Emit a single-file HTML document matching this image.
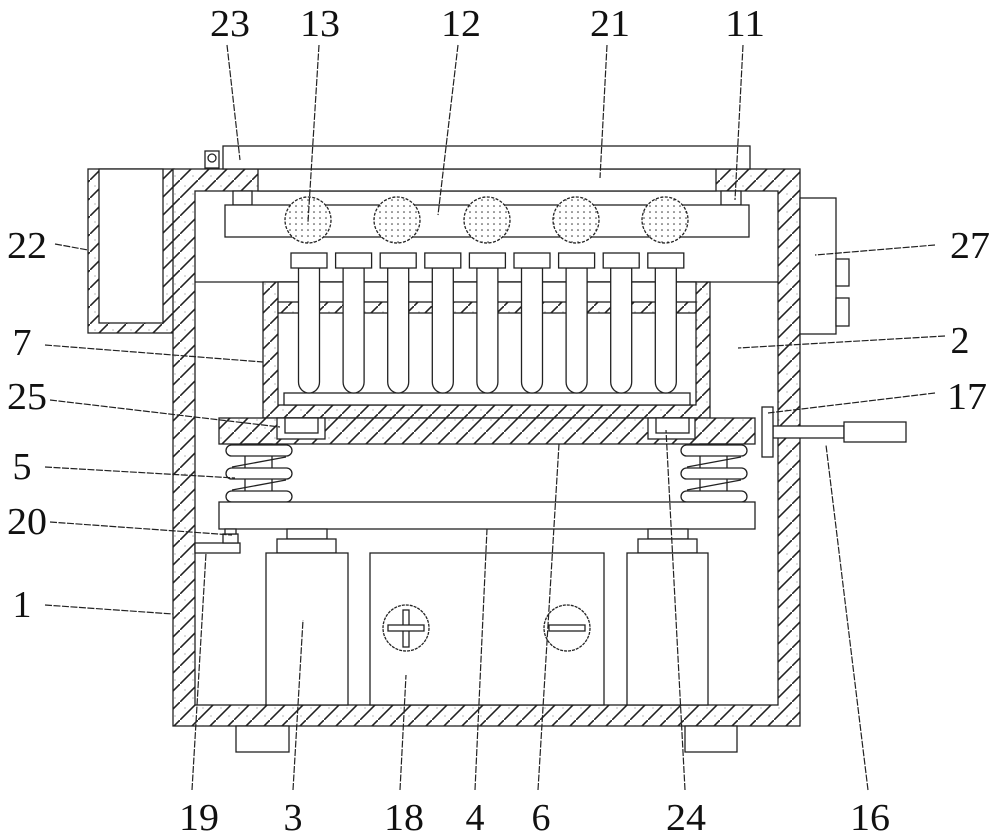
<!DOCTYPE html>
<html><head><meta charset="utf-8"><style>
html,body{margin:0;padding:0;background:#fff;}
svg{display:block;}
text{font-family:"Liberation Serif",serif;font-size:38px;fill:#111;}
</style></head><body>
<svg width="1000" height="839" viewBox="0 0 1000 839" xmlns="http://www.w3.org/2000/svg">
<defs>
<pattern id="h" patternUnits="userSpaceOnUse" width="18" height="18">
<rect width="18" height="18" fill="#fff"/>
<line x1="-2" y1="20" x2="20" y2="-2" stroke="#222" stroke-width="1.6"/>
<circle cx="5" cy="6" r="0.6" fill="#888"/>
<circle cx="13" cy="14" r="0.6" fill="#888"/>
</pattern>
<pattern id="d" patternUnits="userSpaceOnUse" width="6" height="6">
<rect width="6" height="6" fill="#fff"/>
<circle cx="2" cy="2" r="0.8" fill="#333"/>
</pattern>
</defs>
<g stroke="#222" stroke-width="1.3" fill="#fff">
<rect x="88" y="169" width="86" height="164" fill="url(#h)"/>
<rect x="99" y="169" width="64" height="154"/>
<rect x="173" y="169" width="627" height="557" fill="url(#h)"/>
<rect x="195" y="191" width="583" height="514"/>
<rect x="258" y="169" width="458" height="22"/>
<rect x="778" y="426" width="22" height="12" stroke="none"/>
<rect x="223" y="146" width="527" height="23"/>
<rect x="205" y="151" width="14" height="17"/>
<circle cx="212" cy="158" r="4"/>
<rect x="236" y="726" width="53" height="26"/>
<rect x="685" y="726" width="52" height="26"/>
<rect x="233" y="191" width="19" height="14"/>
<rect x="721" y="191" width="20" height="14"/>
<rect x="225" y="205" width="524" height="32"/>
<line x1="195" y1="282" x2="778" y2="282"/>
<rect x="263" y="282" width="447" height="136" fill="url(#h)"/>
<rect x="278" y="282" width="418" height="123"/>
<rect x="278" y="302" width="418" height="11" fill="url(#h)"/>
<rect x="284" y="393" width="406" height="12"/>
<rect x="219" y="418" width="536" height="26" fill="url(#h)"/>
<rect x="277" y="418" width="48" height="21"/>
<rect x="285" y="418" width="33" height="15"/>
<rect x="648" y="418" width="47" height="21"/>
<rect x="656" y="418" width="33" height="15"/>
<rect x="245" y="444" width="27" height="58"/>
<rect x="700" y="444" width="27" height="58"/>
<rect x="226" y="445" width="66" height="11" rx="5.5"/>
<rect x="226" y="468" width="66" height="11" rx="5.5"/>
<rect x="226" y="491" width="66" height="11" rx="5.5"/>
<line x1="232" y1="467" x2="286" y2="457"/>
<line x1="232" y1="490" x2="286" y2="480"/>
<rect x="681" y="445" width="66" height="11" rx="5.5"/>
<rect x="681" y="468" width="66" height="11" rx="5.5"/>
<rect x="681" y="491" width="66" height="11" rx="5.5"/>
<line x1="687" y1="467" x2="741" y2="457"/>
<line x1="687" y1="490" x2="741" y2="480"/>
<rect x="219" y="502" width="536" height="27"/>
<rect x="287" y="529" width="40" height="10"/>
<rect x="277" y="539" width="59" height="14"/>
<rect x="266" y="553" width="82" height="152"/>
<rect x="648" y="529" width="40" height="10"/>
<rect x="638" y="539" width="59" height="14"/>
<rect x="627" y="553" width="81" height="152"/>
<rect x="370" y="553" width="234" height="152"/>
<ellipse cx="406" cy="628" rx="23" ry="23" stroke-dasharray="3 1"/>
<rect x="403" y="610" width="6" height="37"/>
<rect x="388" y="625" width="36" height="6"/>
<ellipse cx="567" cy="628" rx="23" ry="23" stroke-dasharray="3 1"/>
<rect x="549" y="625" width="36" height="6"/>
<rect x="195" y="543" width="45" height="10"/>
<rect x="223" y="534" width="15" height="9"/>
<rect x="225" y="529" width="11" height="5"/>
<rect x="800" y="198" width="36" height="136"/>
<rect x="836" y="259" width="13" height="27"/>
<rect x="836" y="298" width="13" height="28"/>
<rect x="773" y="426" width="71" height="12"/>
<rect x="762" y="407" width="11" height="50"/>
<rect x="844" y="422" width="62" height="20"/>
</g>
<g stroke="#222" stroke-width="1.3" stroke-dasharray="3 1.5" fill="url(#d)">
<circle cx="308" cy="220" r="23"/>
<circle cx="397" cy="220" r="23"/>
<circle cx="487" cy="220" r="23"/>
<circle cx="576" cy="220" r="23"/>
<circle cx="665" cy="220" r="23"/>
</g>
<g stroke="#222" stroke-width="1.3" fill="#fff">
<path id="t" d="M298.5,268 V382 A10.5,11 0 0 0 319.5,382 V268 Z"/>
<rect x="291" y="253" width="36" height="15"/>
<use href="#t" x="44.6"/><rect x="335.6" y="253" width="36" height="15"/>
<use href="#t" x="89.2"/><rect x="380.2" y="253" width="36" height="15"/>
<use href="#t" x="133.8"/><rect x="424.8" y="253" width="36" height="15"/>
<use href="#t" x="178.4"/><rect x="469.4" y="253" width="36" height="15"/>
<use href="#t" x="223"/><rect x="514" y="253" width="36" height="15"/>
<use href="#t" x="267.6"/><rect x="558.6" y="253" width="36" height="15"/>
<use href="#t" x="312.2"/><rect x="603.2" y="253" width="36" height="15"/>
<use href="#t" x="356.8"/><rect x="647.8" y="253" width="36" height="15"/>
</g>
<g stroke="#222" stroke-width="1.2" stroke-dasharray="7 1.5" fill="none">
<line x1="227" y1="45" x2="240" y2="160"/>
<line x1="319" y1="45" x2="308" y2="222"/>
<line x1="458" y1="45" x2="438" y2="215"/>
<line x1="607" y1="45" x2="600" y2="178"/>
<line x1="743" y1="45" x2="735" y2="200"/>
<line x1="55" y1="244" x2="88" y2="250"/>
<line x1="45" y1="345" x2="263" y2="362"/>
<line x1="50" y1="400" x2="280" y2="427"/>
<line x1="45" y1="467" x2="235" y2="478"/>
<line x1="50" y1="522" x2="232" y2="535"/>
<line x1="45" y1="605" x2="173" y2="614"/>
<line x1="935" y1="245" x2="815" y2="255"/>
<line x1="945" y1="336" x2="738" y2="348"/>
<line x1="935" y1="393" x2="768" y2="413"/>
<line x1="192" y1="790" x2="206" y2="553"/>
<line x1="293" y1="790" x2="303" y2="620"/>
<line x1="400" y1="790" x2="406" y2="675"/>
<line x1="475" y1="790" x2="487" y2="529"/>
<line x1="538" y1="790" x2="559" y2="444"/>
<line x1="685" y1="790" x2="666" y2="430"/>
<line x1="868" y1="790" x2="826" y2="445"/>
</g>
<g text-anchor="middle">
<text x="230" y="36" textLength="40" lengthAdjust="spacingAndGlyphs">23</text>
<text x="320" y="36" textLength="40" lengthAdjust="spacingAndGlyphs">13</text>
<text x="461" y="36" textLength="40" lengthAdjust="spacingAndGlyphs">12</text>
<text x="610" y="36" textLength="40" lengthAdjust="spacingAndGlyphs">21</text>
<text x="745" y="36" textLength="40" lengthAdjust="spacingAndGlyphs">11</text>
<text x="27" y="258" textLength="40" lengthAdjust="spacingAndGlyphs">22</text>
<text x="22" y="355" textLength="19" lengthAdjust="spacingAndGlyphs">7</text>
<text x="27" y="409" textLength="40" lengthAdjust="spacingAndGlyphs">25</text>
<text x="22" y="479" textLength="19" lengthAdjust="spacingAndGlyphs">5</text>
<text x="27" y="534" textLength="40" lengthAdjust="spacingAndGlyphs">20</text>
<text x="22" y="617" textLength="19" lengthAdjust="spacingAndGlyphs">1</text>
<text x="970" y="258" textLength="40" lengthAdjust="spacingAndGlyphs">27</text>
<text x="960" y="353" textLength="19" lengthAdjust="spacingAndGlyphs">2</text>
<text x="967" y="409" textLength="40" lengthAdjust="spacingAndGlyphs">17</text>
<text x="199" y="830" textLength="40" lengthAdjust="spacingAndGlyphs">19</text>
<text x="293" y="830" textLength="19" lengthAdjust="spacingAndGlyphs">3</text>
<text x="404" y="830" textLength="40" lengthAdjust="spacingAndGlyphs">18</text>
<text x="475" y="830" textLength="19" lengthAdjust="spacingAndGlyphs">4</text>
<text x="541" y="830" textLength="19" lengthAdjust="spacingAndGlyphs">6</text>
<text x="686" y="830" textLength="40" lengthAdjust="spacingAndGlyphs">24</text>
<text x="870" y="830" textLength="40" lengthAdjust="spacingAndGlyphs">16</text>
</g>
</svg>
</body></html>
